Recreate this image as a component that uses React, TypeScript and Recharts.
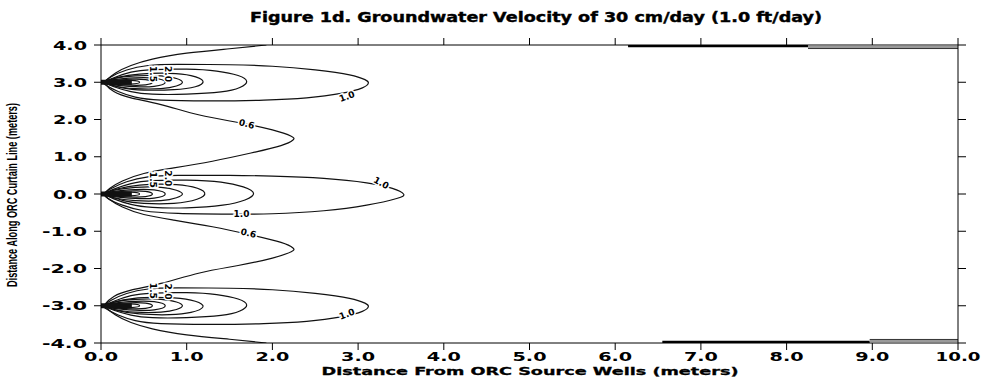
import { ComposedChart, Line, Scatter, XAxis, YAxis } from "recharts";

const xTicks = [0, 1, 2, 3, 4, 5, 6, 7, 8, 9, 10];
const yTicks = [-4, -3, -2, -1, 0, 1, 2, 3, 4];

type P = [number, number];

// 0.6 contour, snaking round the three source wells
const wave06: P[] = [
  [1.93, 4.0], [1.5, 3.9], [1.0, 3.78], [0.6, 3.62], [0.35, 3.45], [0.17, 3.25], [0.06, 3.05],
  [0.05, 2.95], [0.15, 2.75], [0.35, 2.58], [0.7, 2.4], [1.15, 2.12], [1.6, 1.92], [2.0, 1.72],
  [2.22, 1.55], [2.24, 1.45], [2.1, 1.3], [1.75, 1.1], [1.3, 0.88], [0.85, 0.7], [0.5, 0.55],
  [0.25, 0.35], [0.1, 0.15], [0.05, 0], [0.1, -0.15], [0.25, -0.35], [0.5, -0.55], [0.85, -0.7],
  [1.3, -0.88], [1.75, -1.1], [2.1, -1.3], [2.24, -1.45], [2.22, -1.55], [2.0, -1.72], [1.6, -1.92],
  [1.15, -2.12], [0.7, -2.4], [0.35, -2.58], [0.15, -2.75], [0.05, -2.95], [0.06, -3.05],
  [0.17, -3.25], [0.35, -3.45], [0.6, -3.62], [1.0, -3.78], [1.5, -3.9], [1.93, -4.0],
];

// top well (y = 3)
const top10: P[] = [
  [0.03, 3.0], [0.12, 3.15], [0.3, 3.33], [0.55, 3.45], [0.9, 3.48], [1.5, 3.47], [2.0, 3.43],
  [2.5, 3.33], [2.9, 3.2], [3.08, 3.07], [3.12, 2.98], [3.05, 2.85], [2.8, 2.7], [2.4, 2.58],
  [1.9, 2.52], [1.3, 2.5], [0.7, 2.52], [0.4, 2.6], [0.2, 2.75], [0.05, 2.93], [0.03, 3.0],
];
const top15: P[] = [
  [0.03, 3.0], [0.15, 3.12], [0.35, 3.27], [0.6, 3.34], [1.0, 3.35], [1.35, 3.3], [1.6, 3.18],
  [1.7, 3.02], [1.62, 2.86], [1.4, 2.74], [1.0, 2.68], [0.6, 2.68], [0.35, 2.75], [0.15, 2.88], [0.03, 3.0],
];
const top20: P[] = [
  [0.03, 3.0], [0.2, 3.13], [0.45, 3.22], [0.8, 3.24], [1.05, 3.18], [1.19, 3.03], [1.1, 2.88],
  [0.85, 2.8], [0.5, 2.79], [0.25, 2.85], [0.03, 3.0],
];
const top25: P[] = [
  [0.02, 3.0], [0.15, 3.1], [0.4, 3.17], [0.7, 3.17], [0.88, 3.1], [0.95, 3.0], [0.88, 2.9],
  [0.7, 2.83], [0.4, 2.83], [0.15, 2.9], [0.02, 3.0],
];
const top30: P[] = [
  [0.02, 3.0], [0.15, 3.07], [0.4, 3.12], [0.62, 3.11], [0.75, 3.0], [0.62, 2.89], [0.4, 2.88],
  [0.15, 2.93], [0.02, 3.0],
];
const top40: P[] = [
  [0.02, 3.0], [0.15, 3.05], [0.35, 3.08], [0.52, 3.07], [0.6, 3.0], [0.52, 2.93], [0.35, 2.92],
  [0.15, 2.95], [0.02, 3.0],
];
const top50: P[] = [[0.0, 3.0], [0.15, 3.04], [0.35, 3.05], [0.45, 3.0], [0.35, 2.95], [0.15, 2.96], [0.0, 3.0]];
const topCore: P[] = [[0.0, 3.0], [0.36, 3.0]];

// middle well (y = 0)
const mid10: P[] = [
  [0.03, 0.02], [0.12, 0.15], [0.3, 0.33], [0.55, 0.46], [0.9, 0.5], [1.5, 0.5], [2.0, 0.48],
  [2.6, 0.42], [3.1, 0.3], [3.4, 0.15], [3.53, 0.0], [3.45, -0.12], [3.1, -0.3], [2.6, -0.45],
  [2.0, -0.53], [1.5, -0.54], [0.9, -0.52], [0.5, -0.45], [0.25, -0.3], [0.08, -0.12], [0.03, 0.0],
];
const mid15: P[] = [
  [0.03, 0.0], [0.15, 0.13], [0.35, 0.28], [0.6, 0.36], [1.0, 0.37], [1.4, 0.32], [1.66, 0.19],
  [1.78, 0.02], [1.68, -0.16], [1.42, -0.3], [1.0, -0.37], [0.6, -0.36], [0.35, -0.28], [0.15, -0.13], [0.03, 0.0],
];
const mid20: P[] = [
  [0.03, 0.0], [0.2, 0.14], [0.45, 0.24], [0.8, 0.26], [1.07, 0.19], [1.21, 0.03], [1.12, -0.14],
  [0.85, -0.25], [0.5, -0.25], [0.25, -0.17], [0.03, 0.0],
];
const mid25: P[] = [
  [0.02, 0.0], [0.15, 0.1], [0.4, 0.18], [0.7, 0.18], [0.88, 0.1], [0.95, 0.0], [0.88, -0.1],
  [0.7, -0.18], [0.4, -0.18], [0.15, -0.1], [0.02, 0.0],
];
const mid30: P[] = [
  [0.02, 0.0], [0.15, 0.07], [0.4, 0.12], [0.62, 0.11], [0.75, 0.0], [0.62, -0.11], [0.4, -0.12],
  [0.15, -0.07], [0.02, 0.0],
];
const mid40: P[] = [
  [0.02, 0.0], [0.15, 0.05], [0.35, 0.08], [0.52, 0.07], [0.6, 0.0], [0.52, -0.07], [0.35, -0.08],
  [0.15, -0.05], [0.02, 0.0],
];
const mid50: P[] = [[0.0, 0.0], [0.15, 0.04], [0.35, 0.05], [0.45, 0.0], [0.35, -0.05], [0.15, -0.04], [0.0, 0.0]];
const midCore: P[] = [[0.0, 0.0], [0.36, 0.0]];

// bottom well (y = -3)
const bot10: P[] = [
  [0.03, -3.0], [0.12, -2.85], [0.3, -2.67], [0.55, -2.55], [0.9, -2.52], [1.5, -2.53], [2.0, -2.57],
  [2.5, -2.67], [2.9, -2.8], [3.08, -2.93], [3.12, -3.02], [3.05, -3.15], [2.8, -3.3], [2.4, -3.42],
  [1.9, -3.48], [1.3, -3.5], [0.7, -3.48], [0.4, -3.4], [0.2, -3.25], [0.05, -3.07], [0.03, -3.0],
];
const bot15: P[] = [
  [0.03, -3.0], [0.15, -2.88], [0.35, -2.73], [0.6, -2.66], [1.0, -2.65], [1.35, -2.7], [1.6, -2.82],
  [1.7, -2.98], [1.62, -3.14], [1.4, -3.26], [1.0, -3.32], [0.6, -3.32], [0.35, -3.25], [0.15, -3.12], [0.03, -3.0],
];
const bot20: P[] = [
  [0.03, -3.0], [0.25, -2.85], [0.5, -2.78], [0.85, -2.79], [1.1, -2.88], [1.19, -3.03], [1.05, -3.18],
  [0.8, -3.24], [0.45, -3.22], [0.2, -3.13], [0.03, -3.0],
];
const bot25: P[] = [
  [0.02, -3.0], [0.15, -2.9], [0.4, -2.83], [0.7, -2.83], [0.88, -2.9], [0.95, -3.0], [0.88, -3.1],
  [0.7, -3.17], [0.4, -3.17], [0.15, -3.1], [0.02, -3.0],
];
const bot30: P[] = [
  [0.02, -3.0], [0.15, -2.93], [0.4, -2.88], [0.62, -2.89], [0.75, -3.0], [0.62, -3.11], [0.4, -3.12],
  [0.15, -3.07], [0.02, -3.0],
];
const bot40: P[] = [
  [0.02, -3.0], [0.15, -2.95], [0.35, -2.92], [0.52, -2.93], [0.6, -3.0], [0.52, -3.07], [0.35, -3.08],
  [0.15, -3.05], [0.02, -3.0],
];
const bot50: P[] = [[0.0, -3.0], [0.15, -2.96], [0.35, -2.95], [0.45, -3.0], [0.35, -3.05], [0.15, -3.04], [0.0, -3.0]];
const botCore: P[] = [[0.0, -3.0], [0.36, -3.0]];

// contours squeezed against the upper and lower boundary
const edgeTopDark: P[] = [[6.15, 3.975], [8.25, 3.975]];
const edgeTopGrey: P[] = [[8.25, 3.94], [10.0, 3.94]];
const edgeTopLow: P[] = [[8.25, 3.905], [10.0, 3.905]];
const edgeBotDark: P[] = [[6.55, -3.975], [8.97, -3.975]];
const edgeBotGrey: P[] = [[8.97, -3.94], [10.0, -3.94]];
const edgeBotHigh: P[] = [[8.97, -3.905], [10.0, -3.905]];

// contour labels: x, y, text, rotation
const labelX = [2.87, 1.7, 3.27, 1.64, 1.72, 2.87, 0.61, 0.78, 0.61, 0.78, 0.61, 0.78];
const labelY = [2.62, 1.88, 0.3, -0.53, -1.05, -3.22, 3.22, 3.22, 0.38, 0.42, -2.6, -2.62];
const labelText = ["1.0", "0.6", "1.0", "1.0", "0.6", "1.0", "1.5", "2.0", "1.5", "2.0", "1.5", "2.0"];
const labelAngle = [-20, 14, 28, 0, 14, -20, 90, 90, 90, 90, 90, 90];

const toRows = (a: P[]) => a.map(([x, y]) => ({ x, y }));

const series: { d: P[]; w: number; c: string }[] = [
  { d: wave06, w: 1.2, c: "#111" },
  { d: top10, w: 1.2, c: "#111" },
  { d: top15, w: 1.2, c: "#111" },
  { d: top20, w: 1.2, c: "#111" },
  { d: top25, w: 1.2, c: "#111" },
  { d: top30, w: 1.2, c: "#111" },
  { d: top40, w: 1.2, c: "#111" },
  { d: top50, w: 1.2, c: "#111" },
  { d: topCore, w: 5, c: "#111" },
  { d: mid10, w: 1.2, c: "#111" },
  { d: mid15, w: 1.2, c: "#111" },
  { d: mid20, w: 1.2, c: "#111" },
  { d: mid25, w: 1.2, c: "#111" },
  { d: mid30, w: 1.2, c: "#111" },
  { d: mid40, w: 1.2, c: "#111" },
  { d: mid50, w: 1.2, c: "#111" },
  { d: midCore, w: 5, c: "#111" },
  { d: bot10, w: 1.2, c: "#111" },
  { d: bot15, w: 1.2, c: "#111" },
  { d: bot20, w: 1.2, c: "#111" },
  { d: bot25, w: 1.2, c: "#111" },
  { d: bot30, w: 1.2, c: "#111" },
  { d: bot40, w: 1.2, c: "#111" },
  { d: bot50, w: 1.2, c: "#111" },
  { d: botCore, w: 5, c: "#111" },
  { d: edgeTopDark, w: 2.5, c: "#000" },
  { d: edgeTopGrey, w: 2.5, c: "#9a9a9a" },
  { d: edgeTopLow, w: 1, c: "#333" },
  { d: edgeBotDark, w: 2.5, c: "#000" },
  { d: edgeBotGrey, w: 2.5, c: "#9a9a9a" },
  { d: edgeBotHigh, w: 1, c: "#333" },
];

const labels = labelX.map((x, i) => ({ x, y: labelY[i], t: labelText[i], a: labelAngle[i] }));

const FONT = "'DejaVu Sans', sans-serif";

const TickText = (props: any) => {
  const { x, y, payload, side } = props;
  const s = Number(payload.value).toFixed(1);
  const len = s.length === 3 ? 34 : 45;
  if (side === "left") {
    return (
      <text x={x} y={y} dy="0.36em" textAnchor="end" fontSize={13} fontWeight="bold"
        fontFamily={FONT} fill="#000" textLength={len} lengthAdjust="spacingAndGlyphs">{s}</text>
    );
  }
  return (
    <text x={x} y={y} dy="0.72em" textAnchor="middle" fontSize={13} fontWeight="bold"
      fontFamily={FONT} fill="#000" textLength={len} lengthAdjust="spacingAndGlyphs">{s}</text>
  );
};

const NoTick = () => <g />;

const ContourLabel = (props: any) => {
  const { cx, cy, payload } = props;
  return (
    <text x={cx} y={cy} dy="0.35em" textAnchor="middle" fontSize={9} fontWeight="bold" fontFamily={FONT}
      fill="#000" stroke="#fff" strokeWidth={3} paintOrder="stroke"
      transform={`rotate(${payload.a} ${cx} ${cy})`}>{payload.t}</text>
  );
};

export default function App() {
  return (
    <div style={{ position: "absolute", left: 0, top: 0, width: 987, height: 383, background: "#fff" }}>
      <ComposedChart width={987} height={383} margin={{ top: 38, right: 21, bottom: 10, left: 41 }}>
        <XAxis dataKey="x" type="number" domain={[0, 10]} ticks={xTicks} interval={0} allowDataOverflow
          stroke="#000" tickSize={7} tickMargin={2} height={30}
          tick={(p: any) => <TickText {...p} side="bottom" />} />
        <XAxis xAxisId="top" orientation="top" dataKey="x" type="number" domain={[0, 10]} ticks={xTicks}
          interval={0} allowDataOverflow stroke="#000" tickSize={7} height={7} tick={<NoTick />} />
        <YAxis type="number" domain={[-4, 4]} ticks={yTicks} interval={0} allowDataOverflow stroke="#000"
          tickSize={7} tickMargin={7} width={60} tick={(p: any) => <TickText {...p} side="left" />} />
        <YAxis yAxisId="right" orientation="right" type="number" domain={[-4, 4]} ticks={yTicks} interval={0}
          allowDataOverflow stroke="#000" tickSize={8} width={8} tick={<NoTick />} />
        {series.map((s, i) => (
          <Line key={i} data={toRows(s.d)} dataKey="y" type="natural" stroke={s.c} strokeWidth={s.w}
            dot={false} activeDot={false} isAnimationActive={false} />
        ))}
        <Scatter data={labels} dataKey="y" shape={(p: any) => <ContourLabel {...p} />} isAnimationActive={false} />
      </ComposedChart>
      <svg width={987} height={383} style={{ position: "absolute", left: 0, top: 0, pointerEvents: "none" }}>
        <text x={536} y={22} textAnchor="middle" fontSize={14} fontWeight="bold" fontFamily={FONT}
          textLength={572} lengthAdjust="spacingAndGlyphs" stroke="#000" strokeWidth={0.4}>
          Figure 1d.  Groundwater Velocity of 30 cm/day (1.0 ft/day)
        </text>
        <text x={530} y={375} textAnchor="middle" fontSize={11} fontWeight="bold" fontFamily={FONT}
          textLength={417} lengthAdjust="spacingAndGlyphs" stroke="#000" strokeWidth={0.3}>
          Distance From ORC Source Wells (meters)
        </text>
        <text x={0} y={0} transform="translate(17 195) rotate(-90)" textAnchor="middle" fontSize={14}
          fontWeight="bold" fontFamily="'Liberation Sans Narrow', 'Liberation Sans', sans-serif"
          textLength={184} lengthAdjust="spacingAndGlyphs">
          Distance Along ORC Curtain Line (meters)
        </text>
      </svg>
    </div>
  );
}
